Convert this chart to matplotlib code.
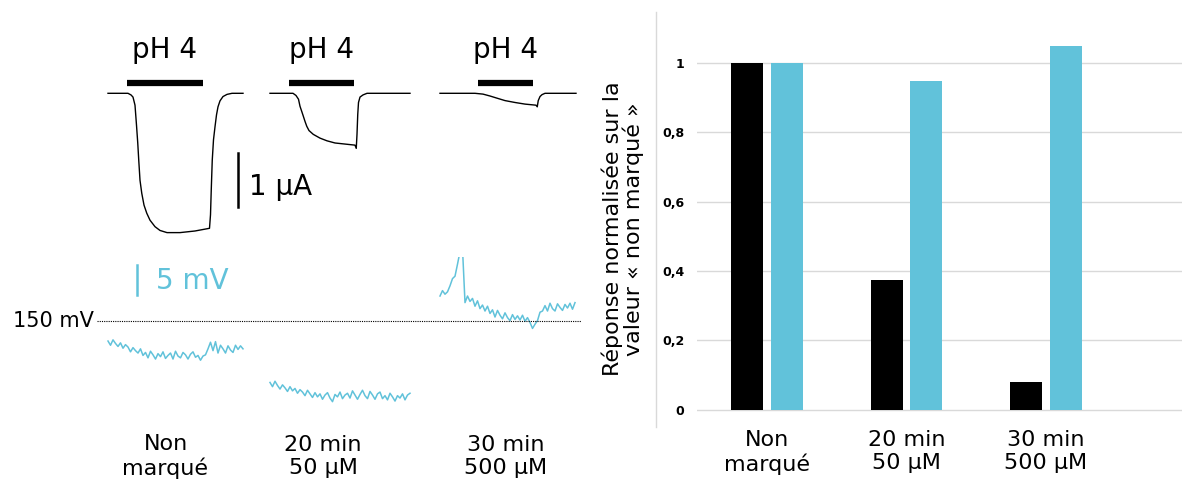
import matplotlib.pyplot as plt
from matplotlib.lines import Line2D
import numpy as np

# --- current traces (time in s, current in uA), one per condition ---
cur_t1 = [0, 8, 9.2, 10, 10.8, 11.4, 11.9, 12.3, 12.8, 13.5, 14.4, 15.5, 16.8, 18.8, 20.8,
          23.6, 28.8, 34.8, 40.6, 41.0, 41.3, 41.7, 42.2, 42.8, 43.4, 44.0, 44.8, 46.0,
          47.6, 49.6, 54]
cur_i1 = [0, 0, -0.03, -0.07, -0.22, -0.59, -0.92, -1.24, -1.61, -1.85, -2.07, -2.22, -2.35,
          -2.47, -2.54, -2.58, -2.58, -2.55, -2.50, -2.25, -1.79, -1.24, -0.86, -0.62, -0.40,
          -0.25, -0.14, -0.06, -0.02, 0, 0]
cur_t2 = [0, 9.2, 10.4, 11.4, 12, 12.8, 13.3, 14, 14.7, 15.6, 17.3, 20, 22.8, 26, 30, 34,
          34.5, 34.8, 35.1, 35.4, 36, 37.2, 38.8, 56]
cur_i2 = [0, 0, -0.04, -0.11, -0.24, -0.35, -0.42, -0.52, -0.61, -0.69, -0.76, -0.83, -0.88,
          -0.92, -0.94, -0.96, -1.02, -0.76, -0.39, -0.17, -0.07, -0.03, 0, 0]
cur_t3 = [0, 14, 17.2, 20, 22.8, 26, 30, 34, 38.4, 38.9, 39.3, 40, 40.8, 42, 54.4]
cur_i3 = [0, 0, -0.015, -0.05, -0.09, -0.135, -0.17, -0.20, -0.22, -0.25, -0.135, -0.06,
          -0.025, 0, 0]

# pH 4 application (start, end) in s
ph_on = [(7.6, 38), (7.6, 33.6), (15.2, 37.2)]

# --- voltage traces (mV), sampled every 1 s ---
volt1 = [146.6, 145.9, 146.8, 146.2, 145.7, 146.3, 145.4, 146.0, 145.6, 144.8,
         145.5, 145.0, 144.6, 145.3, 144.2, 144.7, 143.8, 144.9, 144.3, 143.6,
         144.5, 144.0, 144.8, 143.7, 144.2, 144.6, 143.6, 144.9, 144.1, 143.8,
         144.7, 144.3, 143.6, 144.4, 144.8, 143.9, 144.2, 143.4, 144.1, 144.3,
         145.3, 146.4, 145.0, 146.5, 144.6, 145.9, 145.3, 144.6, 145.8, 145.1,
         144.7, 145.9, 145.2, 145.8, 145.3]
volt2 = [139.7, 139.0, 139.9, 139.2, 138.6, 139.3, 138.8, 138.2, 139.0, 138.3,
         138.7, 137.9, 138.5, 138.1, 137.5, 138.4, 137.8, 137.2, 138.0, 137.3,
         137.8, 136.9, 137.6, 138.0, 137.1, 136.5, 137.7, 137.3, 138.1, 137.0,
         137.6, 137.9, 137.1, 138.3, 137.6, 136.9, 137.7, 138.4, 137.5, 137.0,
         138.2, 137.6, 136.9, 137.8, 138.1, 137.0, 137.5, 136.8, 137.9, 137.3,
         136.6, 137.5, 137.1, 137.8, 136.8, 137.6, 137.9]
volt3 = [154.1, 155.0, 154.4, 154.8, 155.8, 157.0, 157.4, 159.4, 161.5, 162.0,
         153.0, 154.1, 153.2, 153.7, 152.4, 153.3, 152.0, 152.6, 151.6, 152.4,
         151.2, 151.8, 150.6, 151.7, 150.9, 150.3, 151.3, 150.5, 150.0, 151.0,
         150.2, 150.8, 150.1, 150.9, 149.9, 150.5, 149.7, 148.7, 149.4, 150.0,
         151.4, 151.6, 152.5, 151.6, 152.9, 152.0, 151.6, 152.8, 152.2, 151.7,
         152.7, 152.1, 152.9, 151.9, 153.0]

# start of each recording on the shared time axis (s)
offsets = [0, 64.8, 132.8]
conditions = ["Non\nmarqué", "20 min\n50 µM", "30 min\n500 µM"]

# --- bar chart: response normalised on the "non marqué" value ---
current_norm = [1.0, 0.375, 0.08]
voltage_norm = [1.0, 0.948, 1.048]

black = "black"
cyan = "#61c2da"

W, H = 1182, 486


def box(x0, y0, x1, y1):
    return [x0 / W, 1 - y1 / H, (x1 - x0) / W, (y1 - y0) / H]


fig = plt.figure(figsize=(W / 100, H / 100), dpi=100)

# current traces
ax_i = fig.add_axes(box(0, 0, 600, 250))
ax_i.set_xlim(-43.2, 196.8)
ax_i.set_ylim(-2.902, 1.728)
ax_i.axis("off")
for off, t, i, (p0, p1) in zip(offsets, [cur_t1, cur_t2, cur_t3],
                               [cur_i1, cur_i2, cur_i3], ph_on):
    t = np.array(t) + off
    ax_i.plot(t, i, color=black, lw=1.0)
    ax_i.plot([off + p0, off + p1], [0.19, 0.19], color=black, lw=4.5,
              solid_capstyle="butt")
    ax_i.text(off + (p0 + p1) / 2, 0.80, "pH 4", fontsize=20, ha="center", va="center")
ax_i.plot([52, 52], [-1.105, -2.105], color=black, lw=1.8)
ax_i.text(56.5, -1.74, "1 µA", fontsize=20, ha="left", va="center")

# voltage traces
ax_v = fig.add_axes(box(0, 257, 600, 486))
ax_v.set_xlim(-43.2, 196.8)
ax_v.set_ylim(122.45, 160.6)
ax_v.axis("off")
for off, v in zip(offsets, [volt1, volt2, volt3]):
    t = np.arange(len(v)) * 1.0 + off
    ax_v.plot(t, v, color=cyan, lw=1.1)
ax_v.plot([-4.4, 189.2], [150, 150], color=black, lw=0.8, linestyle=(0, (1, 1)))
ax_v.text(-5.6, 150, "150 mV", fontsize=15, ha="right", va="center")
ax_v.plot([11.5, 11.5], [154.3, 159.3], color=cyan, lw=1.8)
ax_v.text(19.0, 156.6, "5 mV", fontsize=20, color=cyan, ha="left", va="center")
for x, lab in zip([23, 86, 159], conditions):
    ax_v.text(x, 127.4, lab, fontsize=16, ha="center", va="center", linespacing=1.2)

# bar chart
ax_b = fig.add_axes(box(697, 12, 1182, 420))
x = np.arange(len(conditions))
ax_b.bar(x - 0.143, current_norm, width=0.229, color=black, zorder=3)
ax_b.bar(x + 0.143, voltage_norm, width=0.229, color=cyan, zorder=3)
ax_b.set_xlim(-0.502, 2.975)
ax_b.set_ylim(-0.0297, 1.147)
yt = [0, 0.2, 0.4, 0.6, 0.8, 1.0]
ax_b.set_yticks(yt)
ax_b.set_yticklabels(["0", "0,2", "0,4", "0,6", "0,8", "1"], fontsize=9,
                     fontweight="bold")
ax_b.set_xticks(x)
ax_b.set_xticklabels(conditions, fontsize=16, linespacing=1.2)
ax_b.tick_params(length=0)
ax_b.tick_params(axis="y", pad=9)
ax_b.tick_params(axis="x", pad=7)
ax_b.grid(axis="y", color="#d9d9d9", lw=1.0, zorder=0)
for s in ax_b.spines.values():
    s.set_visible(False)

fig.add_artist(Line2D([656 / W, 656 / W], [1 - 12 / H, 1 - 427 / H],
                      color="#d9d9d9", lw=1.0))
fig.text(623 / W, 1 - 229 / H, "Réponse normalisée sur la\nvaleur « non marqué »",
         rotation=90, fontsize=16, ha="center", va="center", linespacing=1.0)

fig.savefig("out.png", dpi=100)
